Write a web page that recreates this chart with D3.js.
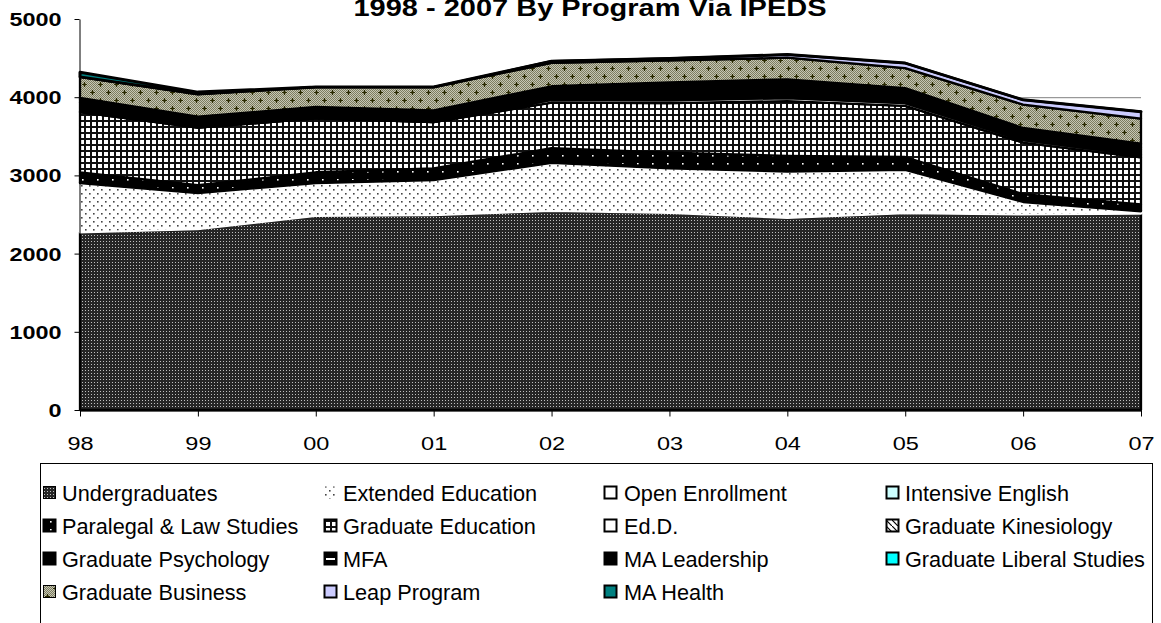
<!DOCTYPE html>
<html>
<head>
<meta charset="utf-8">
<script src="https://cdn.jsdelivr.net/npm/d3@7/dist/d3.min.js"></script>
<style>
  html, body { margin: 0; padding: 0; background: #fff; }
  svg { display: block; }
  text { font-family: Arial, "Liberation Sans", Helvetica, sans-serif; fill: #000; }
</style>
</head>
<body>
<svg id="chart" width="1161" height="623"></svg>
<script>
// ---------------- DATA ----------------
const years = ["98","99","00","01","02","03","04","05","06","07"];
const yTicks = [0,1000,2000,3000,4000,5000];
const titleText = "1998 - 2007 By Program Via IPEDS";

const undergraduates     = [2270,2310,2480,2490,2545,2520,2455,2515,2500,2510];
const extendedEducation  = [ 630, 465, 420, 450, 615, 570, 595, 555, 160,  30];
const openEnrollment     = [  10,  10,  10,  10,  10,  10,  10,  10,  10,  10];
const intensiveEnglish   = [   5,   5,   5,   5,   5,   5,   5,   5,   5,   5];
const paralegalLaw       = [ 125,  85, 125, 135, 175, 185, 185, 150,  85,  75];
const graduateEducation  = [ 770, 735, 690, 590, 580, 635, 700, 655, 660, 600];
const edD                = [   0,   0,   0,   0,  35,  35,  40,  35,  30,  30];
const gradKinesiology    = [  10,  10,  10,  10,  10,  15,  15,  10,  10,  10];
const gradPsychology     = [ 110,  85,  85,  75,  85, 110, 113,  90,  66,  60];
const mfa                = [  40,  30,  30,  30,  35,  40,  45,  35,  30,  30];
const maLeadership       = [  20,  15,  15,  15,  25,  40,  40,  35,  30,  30];
const gradLiberalStudies = [   0,   0,   5,  20,  20,  25,  25,  20,  20,  15];
const gradBusiness       = [ 270, 290, 255, 300, 300, 280, 277, 256, 300, 320];
const leapProgram        = [   0,   0,   0,   0,  20,  25,  40,  65,  60,  90];
const maHealth           = [  60,  25,   0,   0,   0,   0,   0,   0,   0,   0];

const seriesNames = ["Undergraduates","Extended Education","Open Enrollment","Intensive English",
  "Paralegal & Law Studies","Graduate Education","Ed.D.","Graduate Kinesiology",
  "Graduate Psychology","MFA","MA Leadership","Graduate Liberal Studies",
  "Graduate Business","Leap Program","MA Health"];
const seriesValues = [undergraduates, extendedEducation, openEnrollment, intensiveEnglish,
  paralegalLaw, graduateEducation, edD, gradKinesiology, gradPsychology, mfa, maLeadership,
  gradLiberalStudies, gradBusiness, leapProgram, maHealth];

// ---------------- STYLES ----------------
const fills = ["url(#pUG)","url(#pExt)","#ffffff","#ccffff","url(#pPara)","url(#pGrid)","#ffffff",
  "url(#pKin)","#000000","#000000","#000000","#00ffff","url(#pBus)","#ccccff","#008080"];
const strokes = ["#000","#fff","#000","#000","#000","#000","#000","#000","#000","#000","#000","#000","#000","#000","#000"];

const svg = d3.select("#chart");
const defs = svg.append("defs");

function pat(id, w, h) {
  return defs.append("pattern").attr("id", id).attr("patternUnits","userSpaceOnUse")
    .attr("width", w).attr("height", h);
}
// Undergraduates: dark with light dots
{ const p = pat("pUG",3,3);
  p.append("rect").attr("width",3).attr("height",3).attr("fill","#262626");
  p.append("rect").attr("x",1).attr("y",1).attr("width",1).attr("height",1).attr("fill","#c0c0c0"); }
// Extended education: white with grey dots
{ const p = pat("pExt",8,8);
  p.append("rect").attr("width",8).attr("height",8).attr("fill","#fff");
  p.append("rect").attr("x",1).attr("y",1).attr("width",1.6).attr("height",1.6).attr("fill","#444");
  p.append("rect").attr("x",5).attr("y",5).attr("width",1.6).attr("height",1.6).attr("fill","#444"); }
// Paralegal: black with white dots
{ const p = pat("pPara",15,8);
  p.append("rect").attr("width",15).attr("height",8).attr("fill","#000");
  p.append("rect").attr("x",7).attr("y",3).attr("width",1.6).attr("height",1.6).attr("fill","#fff"); }
// Graduate education grid
{ const p = pat("pGrid",6,6);
  p.append("rect").attr("width",6).attr("height",6).attr("fill","#fff");
  p.append("rect").attr("width",6).attr("height",2).attr("fill","#111");
  p.append("rect").attr("width",2).attr("height",6).attr("fill","#111"); }
// Kinesiology diagonal
{ const p = pat("pKin",6,6);
  p.append("rect").attr("width",6).attr("height",6).attr("fill","#fff");
  p.append("path").attr("d","M0,0L6,6").attr("stroke","#000").attr("stroke-width",1.2); }
// Graduate business checker with crosses
{ const p = pat("pBus",16,16);
  for (let i = 0; i < 16; i++) for (let j = 0; j < 16; j++) {
    p.append("rect").attr("x",i).attr("y",j).attr("width",1).attr("height",1)
      .attr("fill", (i + j) % 2 ? "#c6c6b4" : "#7c7c60");
  }
  [[4,4],[12,12]].forEach(([cx,cy]) => {
    p.append("path").attr("d",`M${cx-2},${cy+0.5}h5M${cx+0.5},${cy-2}v5`)
      .attr("stroke","#2a2a00").attr("stroke-width",1.2);
  }); }

// ---------------- SCALES ----------------
const x = d3.scalePoint().domain(years).range([80, 1141]);
const y = d3.scaleLinear().domain([0, 5000]).range([410, 19]);

const rows = years.map((yr, i) => {
  const r = { year: yr };
  seriesNames.forEach((n, k) => r[n] = seriesValues[k][i]);
  return r;
});
const stacked = d3.stack().keys(seriesNames)(rows);

// gridlines
svg.append("g").selectAll("line").data(yTicks.filter(t => t > 0 && t < 5000)).join("line")
  .attr("x1", 80).attr("x2", 1141).attr("y1", d => y(d) + 0.5).attr("y2", d => y(d) + 0.5)
  .attr("stroke", "#808080").attr("stroke-width", 1);

const area = d3.area()
  .x(d => x(d.data.year))
  .y0(d => y(d[0]))
  .y1(d => y(d[1]));

svg.append("g").selectAll("path").data(stacked).join("path")
  .attr("d", area)
  .attr("fill", (d, i) => fills[i])
  .attr("stroke", (d, i) => strokes[i])
  .attr("stroke-width", (d, i) => i === 1 ? 2 : (i === 14 ? 3 : 2.3))
  .attr("stroke-linejoin", "round");

// ---------------- AXES ----------------
const yAxis = svg.append("g").attr("transform", "translate(79.5,0)")
  .call(d3.axisLeft(y).tickValues(yTicks).tickSize(5).tickSizeOuter(0).tickFormat(d3.format("d")));
yAxis.select(".domain").attr("stroke", "#000");
yAxis.selectAll(".tick line").attr("stroke", "#000");
yAxis.selectAll(".tick text")
  .attr("font-family", "Arial, 'Liberation Sans', sans-serif")
  .attr("font-size", 18).attr("font-weight", "bold")
  .attr("x", -18 / 1.3).attr("dy", "0.36em")
  .attr("transform", "scale(1.3,1)")
  .attr("fill", "#000");

const xAxis = svg.append("g").attr("transform", "translate(0,410.5)")
  .call(d3.axisBottom(x).tickSize(6).tickSizeOuter(0));
xAxis.select(".domain").attr("stroke", "#000");
xAxis.selectAll(".tick line").attr("stroke", "#000");
xAxis.selectAll(".tick text")
  .attr("font-family", "Arial, 'Liberation Sans', sans-serif")
  .attr("font-size", 18.5).attr("font-weight", "normal").attr("y", 39.5).attr("dy", 0)
  .attr("transform", "scale(1.27,1)")
  .attr("fill", "#000");

// ---------------- TITLE ----------------
svg.append("text").attr("x", 590).attr("y", 16)
  .attr("text-anchor", "middle").attr("font-weight", "bold").attr("font-size", 24)
  .attr("textLength", 473).attr("lengthAdjust", "spacingAndGlyphs")
  .text(titleText);

// ---------------- LEGEND ----------------
svg.append("rect").attr("x", 40.5).attr("y", 463.5).attr("width", 1112).attr("height", 200)
  .attr("fill", "#fff").attr("stroke", "#000").attr("stroke-width", 1);

const colSwatchX = [43, 324, 604, 886];
const colTextX = [62, 343, 624, 905];
const rowY = [493, 526, 559, 592];
const lg = svg.append("g");
seriesNames.forEach((name, i) => {
  const c = i % 4, r = Math.floor(i / 4);
  const cy = rowY[r];
  const g = lg.append("g").attr("transform", `translate(${colSwatchX[c]},${cy})`);
  const noBorder = (i === 1);
  g.append("rect").attr("x", 0.5).attr("y", -6.5).attr("width", 12).attr("height", 12)
    .attr("fill", fills[i])
    .attr("stroke", noBorder ? "none" : "#000")
    .attr("stroke-width", (i === 0 || i === 12) ? 1 : 2);
  if (i === 9) { // MFA white bar
    g.append("rect").attr("x", 2).attr("y", -1).attr("width", 9).attr("height", 2).attr("fill", "#fff");
  }
  lg.append("text").attr("x", colTextX[c]).attr("y", cy + 7.5)
    .attr("font-size", 21.7).text(name);
});
</script>
</body>
</html>
